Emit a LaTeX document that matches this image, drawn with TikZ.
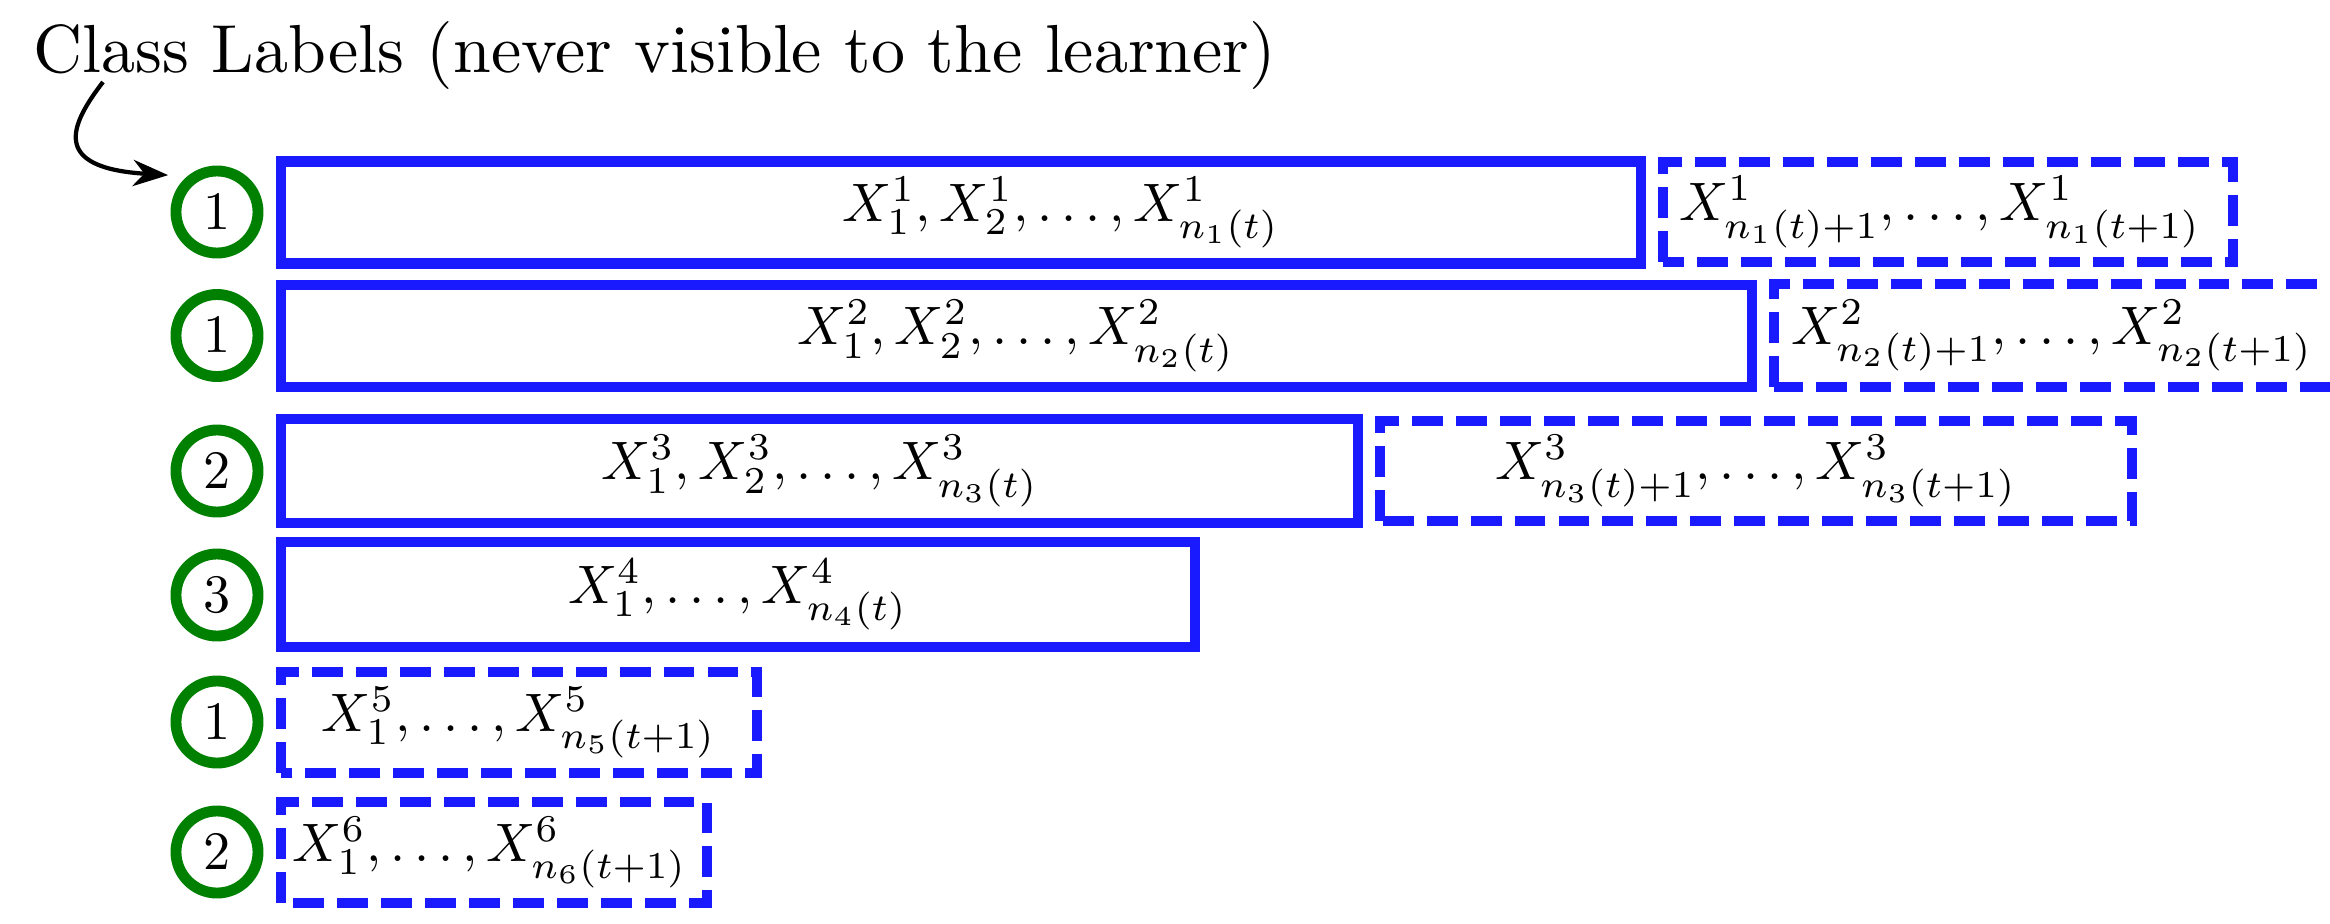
\documentclass[tikz,border=0pt]{standalone}
\usetikzlibrary{arrows.meta}
\definecolor{boxblue}{RGB}{26,26,255}
\definecolor{lblgreen}{RGB}{0,128,0}
\newcommand{\seqtxt}[1]{\scalebox{1.54}{$#1$}}
\begin{document}
\begin{tikzpicture}[x=0.01cm,y=0.01cm,
	solidbox/.style={draw=boxblue,line width=3.1pt},
	dashbox/.style={solidbox,dash pattern=on 8.8pt off 3.7pt},
	lbl/.style={circle,draw=lblgreen,line width=3.1pt,minimum size=0.82cm,inner sep=0pt},
	seq/.style={inner sep=0pt}]
	\useasboundingbox (0,0) rectangle (2330,923);
	\clip (0,0) rectangle (2330,923);
	\node[anchor=base west,inner sep=0pt] (title) at (33,851) {\scalebox{1.934}{Class Labels (never visible to the learner)}};
	% class labels
	\node[lbl] (c1) at (217,711) {\seqtxt{1}};
	\node[lbl] (c2) at (217,587.5) {\seqtxt{1}};
	\node[lbl] (c3) at (217,452) {\seqtxt{2}};
	\node[lbl] (c4) at (217,328) {\seqtxt{3}};
	\node[lbl] (c5) at (217,201) {\seqtxt{1}};
	\node[lbl] (c6) at (217,71) {\seqtxt{2}};
	% samples up to t
	\draw[solidbox] (281,659.5) rectangle (1641,761.5);
	\draw[solidbox] (281,536) rectangle (1752,638);
	\draw[solidbox] (281,400) rectangle (1358,504);
	\draw[solidbox] (281,276) rectangle (1195,381);
	\node[seq] (s1) at (1061,710.5) {\seqtxt{X_1^1,X_2^1,\ldots,X_{n_1(t)}^1}};
	\node[seq] (s2) at (1016,587) {\seqtxt{X_1^2,X_2^2,\ldots,X_{n_2(t)}^2}};
	\node[seq] (s3) at (820,452) {\seqtxt{X_1^3,X_2^3,\ldots,X_{n_3(t)}^3}};
	\node[seq] (s4) at (738,328.5) {\seqtxt{X_1^4,\ldots,X_{n_4(t)}^4}};
	% new samples at t+1
	\draw[dashbox] (1663,661) rectangle (2233,761);
	\draw[dashbox] (1774,536) rectangle (2345,639);
	\draw[dashbox] (1380,402) rectangle (2132,502);
	\draw[dashbox] (281,150) rectangle (757,251);
	\draw[dashbox] (281,20) rectangle (707,121);
	\node[seq] (d1) at (1940,711) {\seqtxt{X_{n_1(t)+1}^1,\ldots,X_{n_1(t+1)}^1}};
	\node[seq] (d2) at (2052,587.5) {\seqtxt{X_{n_2(t)+1}^2,\ldots,X_{n_2(t+1)}^2}};
	\node[seq] (d3) at (1756,452) {\seqtxt{X_{n_3(t)+1}^3,\ldots,X_{n_3(t+1)}^3}};
	\node[seq] (d5) at (519,200.5) {\seqtxt{X_1^5,\ldots,X_{n_5(t+1)}^5}};
	\node[seq] (d6) at (490,70.5) {\seqtxt{X_1^6,\ldots,X_{n_6(t+1)}^6}};
	\draw[-{Stealth[length=10pt,width=7.5pt]},line width=1.2pt] ([shift={(70,-10)}]title.base west) .. controls (70,798) and (50,755) .. ([shift={(-16,4)}]c1.north west);
\end{tikzpicture}
\end{document}
